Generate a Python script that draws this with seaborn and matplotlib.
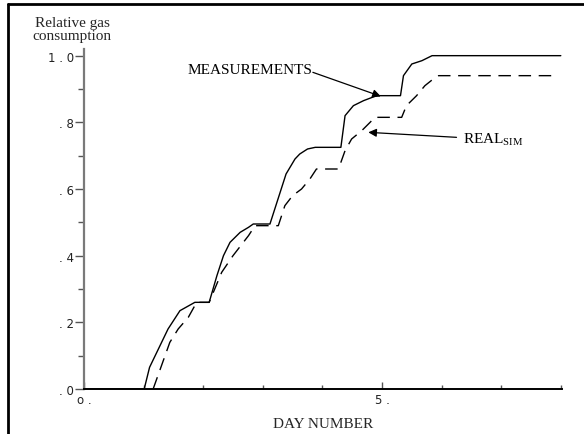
import matplotlib
matplotlib.use("Agg")
import matplotlib.pyplot as plt
from matplotlib.lines import Line2D
from matplotlib.ticker import FixedLocator, FixedFormatter
import seaborn as sns
import pandas as pd

# Measured relative gas consumption (cumulative) by day
meas_day = [0.0, 1.01, 1.10, 1.41, 1.61, 1.86, 2.10, 2.23, 2.34, 2.45, 2.62, 2.76,
            2.84, 3.12, 3.39, 3.54, 3.62, 3.75, 3.88, 4.31, 4.38, 4.52, 4.69, 4.91,
            5.31, 5.36, 5.50, 5.67, 5.84, 8.0]
meas_val = [0.0, 0.0, 0.065, 0.18, 0.235, 0.26, 0.26, 0.34, 0.40, 0.44, 0.47, 0.485,
            0.495, 0.495, 0.645, 0.69, 0.705, 0.72, 0.725, 0.725, 0.82, 0.85, 0.865, 0.88,
            0.88, 0.94, 0.975, 0.985, 1.0, 1.0]

# Simulated relative gas consumption (REAL_SIM)
sim_day = [1.16, 1.44, 1.58, 1.75, 1.89, 2.10, 2.31, 2.50, 2.76, 2.87, 3.26, 3.37,
           3.50, 3.65, 3.79, 3.90, 4.27, 4.38, 4.49, 4.66, 4.80, 4.88, 5.33, 5.41,
           5.58, 5.72, 5.86, 5.95, 7.95]
sim_val = [0.0, 0.14, 0.18, 0.215, 0.26, 0.26, 0.35, 0.40, 0.46, 0.49, 0.49, 0.55,
           0.58, 0.60, 0.63, 0.66, 0.66, 0.715, 0.75, 0.775, 0.80, 0.815, 0.815, 0.85,
           0.88, 0.91, 0.93, 0.94, 0.94]

y_major = [0.0, 0.2, 0.4, 0.6, 0.8, 1.0]
y_major_labels = [". 0", ". 2", ". 4", ". 6", ". 8", "1 . 0"]
y_minor = [0.1, 0.3, 0.5, 0.7, 0.9]
x_major = [0, 5]
x_major_labels = ["o .", "5 ."]
x_minor = [1, 2, 3, 4, 6, 7, 8]

sns.set_style("white")
plt.rcParams["mathtext.fontset"] = "custom"
plt.rcParams["mathtext.rm"] = "Liberation Serif"

df = pd.concat([
    pd.DataFrame({"day": meas_day, "value": meas_val, "series": "meas"}),
    pd.DataFrame({"day": sim_day, "value": sim_val, "series": "sim"}),
], ignore_index=True)

fig = plt.figure(figsize=(5.84, 4.35), dpi=100)
ax = fig.add_axes([84 / 584, 1 - 390 / 435, (562 - 84) / 584, (390 - 50) / 435])

sns.lineplot(data=df, x="day", y="value", style="series", estimator=None, sort=False,
             color="black", linewidth=1.0, dashes={"meas": "", "sim": (9, 5.5)},
             legend=False, ax=ax)

ax.set_xlim(0, 8.02)
ax.set_ylim(0, 1.02)

for side in ("top", "right"):
    ax.spines[side].set_visible(False)
ax.spines["left"].set_color("#7a7a7a")
ax.spines["left"].set_linewidth(1.6)
ax.spines["bottom"].set_color("black")
ax.spines["bottom"].set_linewidth(1.4)

ax.yaxis.set_major_locator(FixedLocator(y_major))
ax.yaxis.set_major_formatter(FixedFormatter(y_major_labels))
ax.yaxis.set_minor_locator(FixedLocator(y_minor))
ax.xaxis.set_major_locator(FixedLocator(x_major))
ax.xaxis.set_major_formatter(FixedFormatter(x_major_labels))
ax.xaxis.set_minor_locator(FixedLocator(x_minor))

ax.tick_params(axis="y", which="major", direction="out", length=6.5, width=1.0,
               color="#555555", pad=0.5, labelsize=8.5, labelcolor="#222222", left=True)
ax.tick_params(axis="y", which="minor", direction="out", length=4, width=1.0,
               color="#555555", left=True)
ax.tick_params(axis="x", which="major", direction="in", length=5, width=1.0,
               color="#555555", pad=3, labelsize=8.5, labelcolor="#222222", bottom=True)
ax.tick_params(axis="x", which="minor", direction="in", length=3, width=1.0,
               color="#555555", bottom=True)
for lab in ax.get_xticklabels() + ax.get_yticklabels():
    lab.set_family("DejaVu Sans")

ax.set_xlabel("DAY NUMBER", family="Liberation Serif", fontsize=11, labelpad=8)
ax.set_ylabel("")
fig.text(72 / 584, 1 - 30 / 435, "Relative gas\nconsumption", family="Liberation Serif",
         fontsize=11, ha="center", va="center", linespacing=1.0)

serif = dict(family="Liberation Serif", fontsize=11, color="black")
ax.text(1.745, 0.96, "MEASUREMENTS", ha="left", va="center", **serif)
ax.annotate("", xy=(4.98, 0.878), xytext=(3.84, 0.95),
            arrowprops=dict(arrowstyle="-|>", color="black", lw=0.9,
                            mutation_scale=12, shrinkA=0, shrinkB=0))
ax.text(6.36, 0.75, r"REAL$_{\mathrm{SIM}}$", ha="left", va="center", **serif)
ax.annotate("", xy=(4.77, 0.77), xytext=(6.25, 0.755),
            arrowprops=dict(arrowstyle="-|>", color="black", lw=0.9,
                            mutation_scale=12, shrinkA=0, shrinkB=0))

# Page frame (top and left edges)
fig.add_artist(Line2D([8 / 584, 8 / 584], [0, 1 - 5 / 435], transform=fig.transFigure,
                      color="black", lw=2))
fig.add_artist(Line2D([8 / 584, 1], [1 - 5 / 435, 1 - 5 / 435], transform=fig.transFigure,
                      color="black", lw=2))

fig.savefig("out.png", dpi=100)
